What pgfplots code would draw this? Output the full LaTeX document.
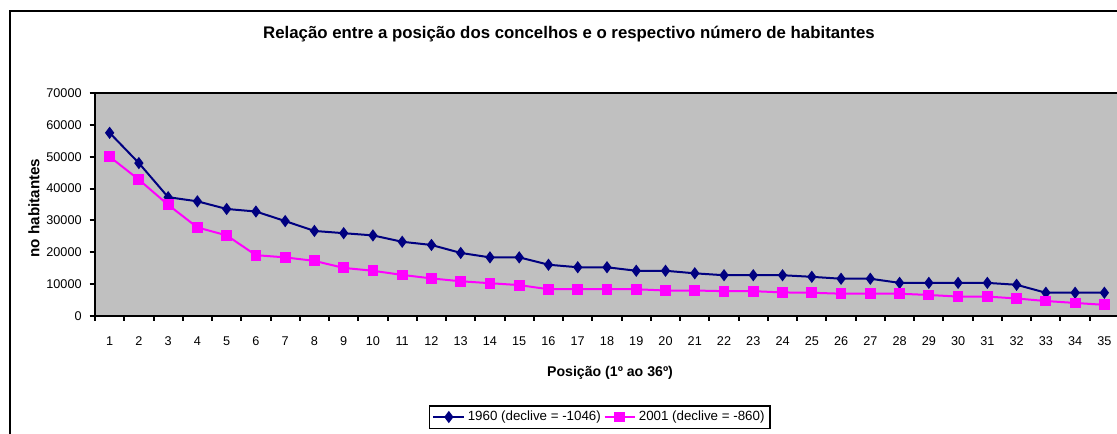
\documentclass[border=0pt]{standalone}
\usepackage{pgfplots}
\pgfplotsset{compat=1.18}
\usepackage{fontspec}
\setmainfont{Liberation Sans}
\definecolor{navy}{HTML}{000080}
\definecolor{mag}{HTML}{FF00FF}
\definecolor{plotgray}{HTML}{C0C0C0}

\pgfplotstableread{
x y
1 57500
2 48000
3 37300
4 36000
5 33600
6 32800
7 29800
8 26700
9 26000
10 25300
11 23300
12 22300
13 19800
14 18400
15 18400
16 16100
17 15300
18 15300
19 14200
20 14200
21 13400
22 12800
23 12800
24 12800
25 12300
26 11700
27 11700
28 10400
29 10400
30 10400
31 10400
32 9800
33 7300
34 7300
35 7300
}\dataA
\pgfplotstableread{
x y
1 50000
2 42800
3 34900
4 27800
5 25300
6 19100
7 18400
8 17300
9 15100
10 14200
11 12900
12 11800
13 10900
14 10300
15 9700
16 8400
17 8400
18 8400
19 8400
20 8000
21 8000
22 7800
23 7800
24 7400
25 7300
26 7000
27 7000
28 7000
29 6600
30 6100
31 6100
32 5500
33 4700
34 4100
35 3500
}\dataB

\begin{document}
\begin{tikzpicture}[x=0.75pt,y=0.75pt]
\fill[white] (0,0) rectangle (1117,433);
\begin{axis}[
  at={(71.25pt,87.75pt)}, anchor=south west,
  width=768pt, height=167.25pt, scale only axis,
  xmin=0.5, xmax=35.5, ymin=0, ymax=70000,
  axis background/.style={fill=plotgray},
  axis line style={line width=1.5pt, black},
  tick align=outside,
  tick style={line width=1.5pt, black},
  xtick={1,...,35},
  major x tick style={draw=none},
  minor xtick={0.5,1.5,...,35.5},
  minor tick length=3.5pt,
  major tick length=4pt,
  ytick={0,10000,...,70000},
  xtick pos=bottom, ytick pos=left,
  scaled y ticks=false,
  /pgf/number format/assume math mode=true,
  /pgf/number format/set thousands separator={},
  tick label style={font=\fontsize{9.5}{11}\selectfont},
  xticklabel style={yshift=-8pt},
  yticklabel style={xshift=-2.5pt},
  legend style={at={(axis description cs:0.493,-0.453)}, anchor=center,
    draw=black, line width=1pt, fill=white,
    font=\fontsize{10}{11}\selectfont, inner sep=2pt,
    /tikz/every even column/.append style={column sep=0pt}},
  legend columns=2,
  legend cell align=left,
  legend image code/.code={\draw[mark repeat=2,mark phase=2] plot coordinates {(0pt,0pt) (11.5pt,0pt) (23pt,0pt)};},
]
\addplot[navy, line width=1.5pt, mark=diamond*, mark size=3.4pt, mark options={solid, fill=navy}] table[x=x,y=y]{\dataA};
\addlegendentry{1960 (declive = -1046)}
\addplot[mag, line width=1.5pt, mark=square*, mark size=3.3pt, mark options={solid, fill=mag}] table[x=x,y=y]{\dataB};
\addlegendentry{2001 (declive = -860)}
\end{axis}
\node[font=\bfseries\fontsize{12.6}{14}\selectfont, anchor=base] at (569,394.5) {Relação entre a posição dos concelhos e o respectivo número de habitantes};
\node[font=\bfseries\fontsize{11.4}{13}\selectfont, rotate=90] at (34,225) {no habitantes};
\node[font=\bfseries\fontsize{10.6}{12}\selectfont] at (610,60) {Posição (1º ao 36º)};
\draw[line width=1.5pt] (10,-20) rectangle (1140,422);
\pgfresetboundingbox
\useasboundingbox (0,0) rectangle (1117,433);
\end{tikzpicture}
\end{document}
